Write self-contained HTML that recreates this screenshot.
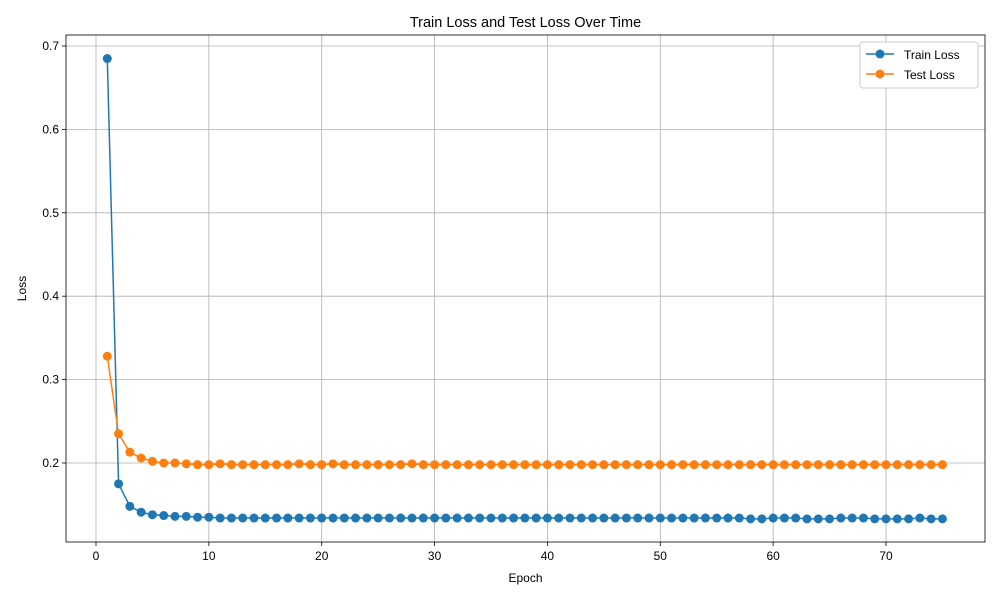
<!DOCTYPE html>
<html><head><meta charset="utf-8"><style>
body{margin:0;background:#fff;font-family:"Liberation Sans",sans-serif;}
svg text{font-family:"Liberation Sans",sans-serif;}
</style></head><body>
<svg id="chart" width="1000" height="600"></svg>
<script>
const epochs = Array.from({length:75},(_,i)=>i+1);
const trainLoss = [0.685,0.175,0.148,0.141,0.138,0.137,0.136,0.136,0.135,0.135,
0.134,0.134,0.134,0.134,0.134,0.134,0.134,0.134,0.134,0.134,
0.134,0.134,0.134,0.134,0.134,0.134,0.134,0.134,0.134,0.134,
0.134,0.134,0.134,0.134,0.134,0.134,0.134,0.134,0.134,0.134,
0.134,0.134,0.134,0.134,0.134,0.134,0.134,0.134,0.134,0.134,
0.134,0.134,0.134,0.134,0.134,0.134,0.134,0.133,0.133,0.134,
0.134,0.134,0.133,0.133,0.133,0.134,0.134,0.134,0.133,0.133,
0.133,0.133,0.134,0.133,0.133];
const testLoss = [0.328,0.235,0.213,0.206,0.202,0.200,0.200,0.199,0.198,0.198,
0.199,0.198,0.198,0.198,0.198,0.198,0.198,0.199,0.198,0.198,
0.199,0.198,0.198,0.198,0.198,0.198,0.198,0.199,0.198,0.198,
0.198,0.198,0.198,0.198,0.198,0.198,0.198,0.198,0.198,0.198,
0.198,0.198,0.198,0.198,0.198,0.198,0.198,0.198,0.198,0.198,
0.198,0.198,0.198,0.198,0.198,0.198,0.198,0.198,0.198,0.198,
0.198,0.198,0.198,0.198,0.198,0.198,0.198,0.198,0.198,0.198,
0.198,0.198,0.198,0.198,0.198];
const xTicks = [0,10,20,30,40,50,60,70];
const yTicks = [0.2,0.3,0.4,0.5,0.6,0.7];

const L=66,R=985,T=35,B=542;
const xs=v=>96+v*(790/70);
const ys=v=>463-(v-0.2)*834;
const svg=document.getElementById('chart');
const NS='http://www.w3.org/2000/svg';
function mk(tag,attrs,parent){const e=document.createElementNS(NS,tag);for(const k in attrs)e.setAttribute(k,attrs[k]);(parent||svg).appendChild(e);return e;}

const grid=mk('g',{});


xTicks.forEach(t=>{
  const x=xs(t);
  mk('line',{x1:x,x2:x,y1:T,y2:B,stroke:'#b0b0b0','stroke-width':0.8},grid);
  mk('line',{x1:x,x2:x,y1:B,y2:B+4,stroke:'#000','stroke-width':0.8},grid);
  const tx=mk('text',{x:x,y:B+18,'text-anchor':'middle','font-size':12},grid);
  tx.textContent=t;
  
  
});
yTicks.forEach(t=>{
  const y=ys(t);
  mk('line',{x1:L,x2:R,y1:y,y2:y,stroke:'#b0b0b0','stroke-width':0.8},grid);
  mk('line',{x1:L-4,x2:L,y1:y,y2:y,stroke:'#000','stroke-width':0.8},grid);
  const tx=mk('text',{x:L-7,y:y+4,'text-anchor':'end','font-size':12},grid);
  tx.textContent=t.toFixed(1);
  
  
});

function series(vals,color,name){
  const g=mk('g',{});
  
  
  mk('polyline',{points:vals.map((v,i)=>xs(epochs[i])+','+ys(v)).join(' '),fill:'none',stroke:color,'stroke-width':1.5},g);
  vals.forEach((v,i)=>{
    const c=mk('circle',{cx:xs(epochs[i]),cy:ys(v),r:4.5,fill:color},g);
    
    
  });
}
series(trainLoss,'#1f77b4','train-loss-series');
series(testLoss,'#ff7f0e','test-loss-series');

const frame=mk('rect',{x:L,y:T,width:R-L,height:B-T,fill:'none',stroke:'#000','stroke-width':0.8});



const title=mk('text',{x:(L+R)/2,y:27,'text-anchor':'middle','font-size':14.5});
title.textContent='Train Loss and Test Loss Over Time';


const xl=mk('text',{x:(L+R)/2,y:582,'text-anchor':'middle','font-size':12});
xl.textContent='Epoch';


const yl=mk('text',{x:26,y:(T+B)/2,'text-anchor':'middle','font-size':12,transform:'rotate(-90 26 '+((T+B)/2)+')'});
yl.textContent='Loss';



const lg=mk('g',{});


mk('rect',{x:860,y:42,width:118,height:46,rx:3,fill:'#fff',stroke:'#ccc','stroke-width':1},lg);
[['Train Loss','#1f77b4',56],['Test Loss','#ff7f0e',76]].forEach(([n,c,y])=>{
  const e=mk('g',{},lg);
  
  
  mk('line',{x1:866,x2:894,y1:y-2,y2:y-2,stroke:c,'stroke-width':1.5},e);
  mk('circle',{cx:880,cy:y-2,r:4.5,fill:c},e);
  const t=mk('text',{x:904,y:y+3,'font-size':12},e);t.textContent=n;
});
</script>
</body></html>
